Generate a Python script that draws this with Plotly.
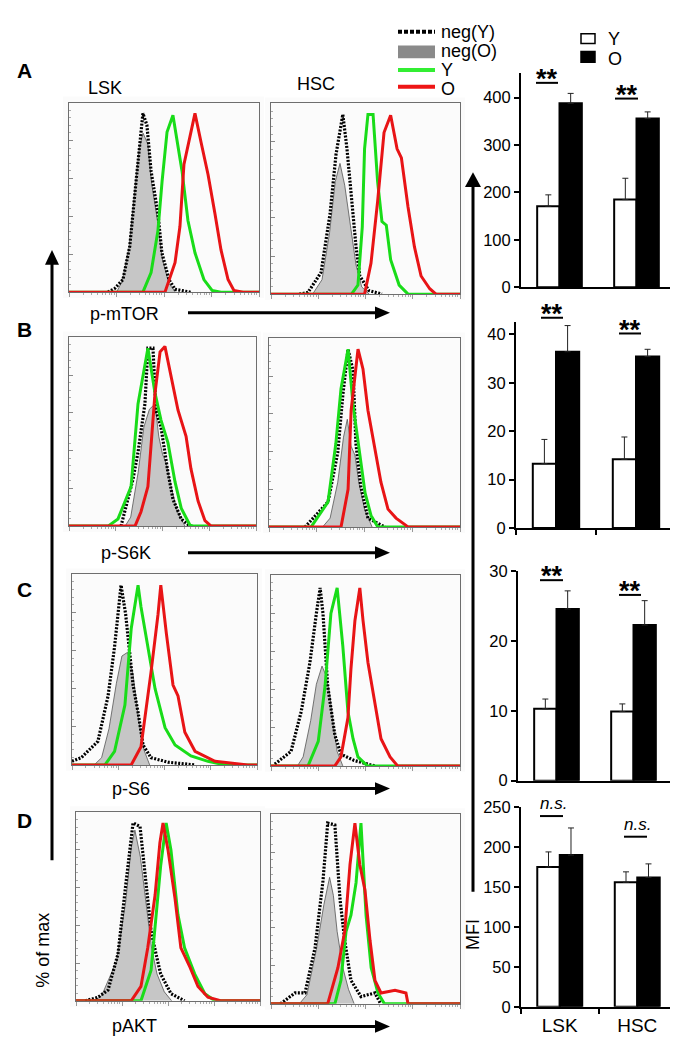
import math
import plotly.graph_objects as go

W, H = 678, 1050
FONT = "Liberation Sans, Arial, sans-serif"

# ---------------- histogram data: (channel %, % of max) ----------------
mtor_lsk_negY = [(20.5, 0), (24, 2), (28.4, 7), (32, 25.6), (35.3, 61.5), (37.9, 88.7), (38.9, 99), (41, 92.5), (43.2, 67), (46.8, 43.5), (48.9, 21.8), (52.6, 7), (55.8, 1.6), (64, 0)]
mtor_lsk_negO = [(25, 0), (28, 6), (31.5, 24), (34.5, 56), (37, 80), (39, 88), (41.5, 82), (43.5, 60), (46.5, 40), (49, 19), (52.5, 5), (56, 0)]
mtor_lsk_Y = [(0, 0), (38.9, 0), (43.2, 10.9), (46.8, 34), (49, 61.5), (51.6, 88.7), (54.7, 98), (57.4, 80), (59.5, 67), (62.6, 39.7), (66.3, 21.8), (71, 7), (75.3, 1), (80, 0), (100, 0)]
mtor_lsk_O = [(0, 0), (50.5, 0), (55.8, 16.3), (58.4, 36.5), (60.5, 70.7), (64.2, 88.7), (66.3, 99), (69.5, 83), (73.2, 65), (76.8, 43.5), (80, 23.4), (83.7, 7), (86.8, 1), (91.6, 0), (100, 0)]

mtor_hsc_negY = [(15, 0), (19.6, 1), (26.5, 12), (31.2, 44), (34.4, 77), (38, 99), (40.2, 80), (42.6, 51), (45, 26), (47, 10), (51.8, 2), (58.7, 0)]
mtor_hsc_negO = [(22, 0), (27, 8), (31, 34), (34, 62), (36.5, 72), (39, 60), (42, 38), (45, 16), (48, 4), (52, 0)]
mtor_hsc_Y = [(0, 0), (42.6, 0), (46, 5), (48.3, 37), (49.5, 80), (51.3, 99), (54, 99), (56.4, 62), (58.7, 40), (61, 38), (63.3, 19), (67.8, 5), (72.5, 0), (100, 0)]
mtor_hsc_O = [(0, 0), (49.5, 0), (52.9, 17), (56.4, 51), (59.8, 89), (63.3, 98.5), (66.7, 80), (69, 75), (72.5, 48), (75.9, 26), (79.4, 10), (84, 3), (87.3, 0), (100, 0)]

s6k_lsk_negY = [(27.8, 0), (34.2, 26), (36.9, 41), (40.6, 68), (42.2, 99), (44.9, 99), (46.5, 64.5), (49.2, 55), (52.9, 30), (55.6, 15), (60, 4), (64.7, 0)]
s6k_lsk_negO = [(30, 0), (33, 5), (37, 30), (40, 55), (43, 65), (46, 68), (48, 50), (50, 40), (52, 35), (55, 20), (58, 8), (62, 0)]
s6k_lsk_Y = [(0, 0), (20.9, 0), (26.2, 4), (33.2, 22), (36.9, 68), (39.6, 83), (42.2, 99), (46, 74), (49.2, 59), (52.9, 46.5), (56.7, 24.6), (60, 10), (64.7, 0.5), (67, 0), (100, 0)]
s6k_lsk_O = [(0, 0), (35.3, 0), (38.5, 8), (42.2, 22), (46, 74), (48.7, 97), (51.3, 100), (54.5, 83), (58.3, 64.5), (62.6, 50), (65.2, 32), (69, 14), (72.7, 3), (76, 0), (100, 0)]

s6k_hsc_negY = [(18.8, 0), (30.9, 14), (36, 41.5), (38.7, 74), (41.4, 99), (44, 87), (45.5, 46.5), (48, 23), (51.8, 5), (60.7, 0)]
s6k_hsc_negO = [(28, 0), (32, 5), (36, 25), (39, 50), (41, 60), (43, 45), (45, 40), (47, 25), (50, 10), (54, 0)]
s6k_hsc_Y = [(0, 0), (22, 0), (30.9, 14), (35, 46.5), (37.7, 77), (41.4, 99), (44, 68), (46.6, 46.5), (50.3, 19), (53.4, 6.5), (57, 0), (100, 0)]
s6k_hsc_O = [(0, 0), (37.7, 0), (41.4, 21), (43, 65), (46.6, 99), (49.2, 88), (51.8, 65), (55.5, 43), (58.6, 25), (62.3, 10), (66.5, 5), (71.7, 1), (72.8, 0), (100, 0)]

s6_lsk_negY = [(0, 2), (5, 4), (14, 13), (19.5, 38), (23, 65), (26.5, 99), (29, 83), (33, 44), (35.7, 29), (38.4, 11), (42.7, 4), (52, 1.5), (66.5, 0)]
s6_lsk_negO = [(12, 0), (16, 4), (20, 20), (24, 45), (27, 60), (30, 62), (33, 50), (36, 25), (39, 8), (42, 0)]
s6_lsk_Y = [(0, 0), (17.8, 0), (23, 7.5), (28.6, 33), (32, 75), (35.7, 99), (37.3, 87), (41, 65), (44.9, 42), (50.3, 20.5), (55.7, 11), (64.3, 5), (73.5, 2), (82.7, 0), (100, 0)]
s6_lsk_O = [(0, 0), (32, 0), (37.3, 10), (42.7, 51), (46.5, 83), (48, 99), (51, 72.5), (54.6, 44), (57.3, 38), (61, 18), (66.5, 7.5), (77.3, 2), (95, 0), (100, 0)]

s6_hsc_negY = [(2, 1), (10.6, 8), (16, 30), (20.6, 57), (24, 84), (26, 98), (27.5, 84), (30, 44), (33.8, 17), (37, 6.5), (44, 3), (55, 0)]
s6_hsc_negO = [(14, 0), (17, 5), (21, 25), (24, 45), (27, 55), (29, 50), (31, 40), (33, 22), (35, 8), (38, 0)]
s6_hsc_Y = [(0, 0), (19.6, 0), (25, 13.5), (28.6, 44), (31.7, 84), (35, 98), (38, 66), (40.7, 30), (43.4, 15), (46, 5), (51, 0), (100, 0)]
s6_hsc_O = [(0, 0), (33.8, 0), (37, 5), (40.7, 26.5), (42.3, 53.5), (44.4, 80), (47, 98), (48.7, 80), (51.3, 57), (55, 33.5), (58.2, 15), (63, 5), (67, 0), (100, 0)]

akt_lsk_negY = [(5, 0), (12, 2), (17.4, 6), (22.8, 26), (27.2, 66), (31, 99), (34.8, 97), (37.5, 70), (40.8, 39), (43.5, 26), (46, 15), (51.6, 4), (59, 0)]
akt_lsk_negO = [(10, 0), (14, 3), (22, 22), (27, 55), (30, 85), (32, 95), (35, 80), (38, 55), (41, 30), (44, 15), (48, 5), (52, 0)]
akt_lsk_Y = [(0, 0), (35.3, 0), (40.8, 17), (43.5, 48), (46, 75), (49, 99), (51.6, 84), (55.4, 48), (59, 29.5), (64.5, 15), (70, 4), (75.5, 0), (100, 0)]
akt_lsk_O = [(0, 0), (30, 0), (35.3, 8), (39, 29.5), (43, 59), (45.6, 88), (47.3, 99), (50, 84), (53.8, 57), (57, 29.5), (62, 18.6), (66.3, 8), (71.7, 2), (79, 0), (100, 0)]

akt_hsc_negY = [(5, 0), (12.7, 6), (18, 6), (23.3, 31), (27.5, 68), (30, 100), (33.8, 99), (36.5, 58), (39, 35), (42.3, 13), (47.6, 4), (55, 6), (58, 0)]
akt_hsc_negO = [(15, 0), (19, 5), (24, 30), (28, 55), (31, 70), (33, 60), (35, 40), (38, 20), (41, 8), (44, 0)]
akt_hsc_Y = [(0, 0), (33.8, 0), (37, 13), (39.7, 40), (42.3, 49), (45, 67), (47.6, 100), (50.3, 49), (53, 20), (56.6, 6), (60, 0), (100, 0)]
akt_hsc_O = [(0, 0), (30, 0), (35.4, 20), (39, 40), (41.8, 77), (44.4, 100), (47, 77), (49.7, 63), (52.4, 35), (55, 13), (58.2, 6), (65.6, 7.5), (71.4, 6), (72.5, 0), (100, 0)]

# ---------------- MFI bar data ----------------
mfi_categories = ["LSK", "HSC"]
mtor_Y = [171, 185]; mtor_Y_sem = [24, 45]
mtor_O = [388, 356]; mtor_O_sem = [21, 14]
s6k_Y = [13.3, 14.2]; s6k_Y_sem = [5.0, 4.6]
s6k_O = [36.4, 35.4]; s6k_O_sem = [5.4, 1.5]
s6_Y = [10.3, 9.9]; s6_Y_sem = [1.4, 1.1]
s6_O = [24.6, 22.3]; s6_O_sem = [2.6, 3.5]
akt_Y = [175, 156]; akt_Y_sem = [19, 13]
akt_O = [190, 162]; akt_O_sem = [34, 17]
significance = [("**", "**"), ("**", "**"), ("**", "**"), ("n.s.", "n.s.")]
marker_labels = ["p-mTOR", "p-S6K", "p-S6", "pAKT"]
panel_letters = ["A", "B", "C", "D"]

# ---------------- layout geometry (pixels) ----------------
def X(p): return p / W
def Y(p): return 1 - p / H

hist_boxes = [
    [(61, 251, 87, 280), (263, 452, 88, 282)],
    [(61, 248, 326, 518), (261, 452, 327, 519)],
    [(64, 249, 567, 761), (263, 452, 568, 762)],
    [(68, 252, 809, 1001), (263, 452, 811, 1004)],
]
bar_boxes = [(513, 667, 57, 275), (508, 668, 310, 520), (510, 664, 564, 777), (513, 668, 804, 1007)]
bar_ranges = [452, 42.6, 30, 250]
bar_dticks = [100, 10, 10, 50]
sig_lines = [
    [(528, 550, 67), (607, 630, 83)],
    [(533, 555, 306), (611, 633, 322)],
    [(532, 555, 573), (611, 633, 588)],
    [(532, 555, 813), (616, 639, 834)],
]
label_rows_y = [302, 545, 785, 1027]
label_x = [116, 118, 123, 126]
letter_y = [54, 318, 582, 818]

curves = [
    [(mtor_lsk_negY, mtor_lsk_negO, mtor_lsk_Y, mtor_lsk_O), (mtor_hsc_negY, mtor_hsc_negO, mtor_hsc_Y, mtor_hsc_O)],
    [(s6k_lsk_negY, s6k_lsk_negO, s6k_lsk_Y, s6k_lsk_O), (s6k_hsc_negY, s6k_hsc_negO, s6k_hsc_Y, s6k_hsc_O)],
    [(s6_lsk_negY, s6_lsk_negO, s6_lsk_Y, s6_lsk_O), (s6_hsc_negY, s6_hsc_negO, s6_hsc_Y, s6_hsc_O)],
    [(akt_lsk_negY, akt_lsk_negO, akt_lsk_Y, akt_lsk_O), (akt_hsc_negY, akt_hsc_negO, akt_hsc_Y, akt_hsc_O)],
]
bars = [
    (mtor_Y, mtor_Y_sem, mtor_O, mtor_O_sem),
    (s6k_Y, s6k_Y_sem, s6k_O, s6k_O_sem),
    (s6_Y, s6_Y_sem, s6_O, s6_O_sem),
    (akt_Y, akt_Y_sem, akt_O, akt_O_sem),
]

GREEN = "#19dc19"
RED = "#e81416"
TXT = 18
fig = go.Figure()
layout = dict(
    width=W, height=H, margin=dict(l=0, r=0, t=0, b=0),
    paper_bgcolor="white", plot_bgcolor="rgba(0,0,0,0)",
    showlegend=False, barmode="group", bargap=0.42, bargroupgap=0,
    font=dict(family=FONT, color="black"),
)
shapes = []
annotations = []

log_ticks = [d * 25 + 25 * math.log10(k) for d in range(4) for k in range(2, 10)]
major_ticks = [0, 25, 50, 75, 100]

ax = 0
for r in range(4):
    for c in range(2):
        ax += 1
        x0, x1, y0, y1 = hist_boxes[r][c]
        xa, ya = ("xaxis%d" % ax if ax > 1 else "xaxis"), ("yaxis%d" % ax if ax > 1 else "yaxis")
        xr, yr = ("x%d" % ax if ax > 1 else "x"), ("y%d" % ax if ax > 1 else "y")
        layout[xa] = dict(domain=[X(x0), X(x1)], range=[0, 100], anchor=yr, showgrid=False, zeroline=False,
                          showline=True, mirror=True, linecolor="#6e6e6e", linewidth=1,
                          ticks="outside", ticklen=4, tickcolor="#999", tickvals=major_ticks, showticklabels=False,
                          minor=dict(tickvals=log_ticks, ticks="outside", ticklen=2, tickcolor="#aaa"))
        layout[ya] = dict(domain=[Y(y1), Y(y0)], range=[0, 105], anchor=xr, showgrid=False, zeroline=False,
                          showline=True, mirror=True, linecolor="#6e6e6e", linewidth=1,
                          ticks="inside", ticklen=4, tickcolor="#888", tickvals=[0, 21, 42, 63, 84, 105],
                          showticklabels=False,
                          minor=dict(tickvals=[i * 4.2 for i in range(26)], ticks="inside", ticklen=2, tickcolor="#aaa"))
        shapes.append(dict(type="rect", xref=xr + " domain", yref=yr + " domain", x0=0, x1=1, y0=0, y1=1,
                           fillcolor="#f4f4f4", line=dict(width=0), layer="below"))
        shapes.append(dict(type="rect", xref="paper", yref="paper", x0=X(x0 - 6), x1=X(x1 + 5), y0=Y(y1 + 6), y1=Y(y0 - 6),
                           fillcolor="#fbfbfb", line=dict(width=0), layer="below"))
        negY, negO, cY, cO = curves[r][c]
        fig.add_trace(go.Scatter(x=[p[0] for p in negO], y=[p[1] for p in negO], xaxis=xr, yaxis=yr, mode="lines",
                                 fill="tozeroy", fillcolor="#c6c6c6", line=dict(color="#555", width=0.8)))
        fig.add_trace(go.Scatter(x=[p[0] for p in negY], y=[p[1] for p in negY], xaxis=xr, yaxis=yr, mode="lines",
                                 line=dict(color="black", width=3.2, dash="2px,1.5px")))
        fig.add_trace(go.Scatter(x=[p[0] for p in cY], y=[p[1] for p in cY], xaxis=xr, yaxis=yr, mode="lines",
                                 line=dict(color=GREEN, width=3)))
        fig.add_trace(go.Scatter(x=[p[0] for p in cO], y=[p[1] for p in cO], xaxis=xr, yaxis=yr, mode="lines",
                                 line=dict(color=RED, width=3)))

for r in range(4):
    ax += 1
    x0, x1, y0, y1 = bar_boxes[r]
    xa, ya = "xaxis%d" % ax, "yaxis%d" % ax
    xr, yr = "x%d" % ax, "y%d" % ax
    last = r == 3
    layout[xa] = dict(domain=[X(x0), X(x1)], range=[-0.5, 1.5], anchor=yr, type="category",
                      showgrid=False, zeroline=False, showline=True, linecolor="black", linewidth=2,
                      ticks="outside" if r in (1, 3) else "", tickson="boundaries", ticklen=5, tickwidth=2,
                      tickcolor="black", showticklabels=last, tickfont=dict(size=19, family=FONT))
    layout[ya] = dict(domain=[Y(y1), Y(y0)], range=[0, bar_ranges[r]], anchor=xr, showgrid=False, zeroline=False,
                      showline=True, linecolor="black", linewidth=2, ticks="outside", ticklen=5, tickwidth=2,
                      tickcolor="black", dtick=bar_dticks[r], tick0=0, tickfont=dict(size=16.5, family=FONT))
    vY, eY, vO, eO = bars[r]
    fig.add_trace(go.Bar(x=mfi_categories, y=vY, xaxis=xr, yaxis=yr, offsetgroup="Y",
                         marker=dict(color="white", line=dict(color="black", width=2)),
                         error_y=dict(type="data", symmetric=False, array=eY, arrayminus=[0] * len(eY),
                                      color="#222", thickness=1, width=3)))
    fig.add_trace(go.Bar(x=mfi_categories, y=vO, xaxis=xr, yaxis=yr, offsetgroup="O",
                         marker=dict(color="black", line=dict(color="black", width=2)),
                         error_y=dict(type="data", symmetric=False, array=eO, arrayminus=[0] * len(eO),
                                      color="#222", thickness=1, width=3)))
    for (sx0, sx1, sy), txt in zip(sig_lines[r], significance[r]):
        shapes.append(dict(type="line", xref="paper", yref="paper", x0=X(sx0), x1=X(sx1), y0=Y(sy), y1=Y(sy),
                           line=dict(color="black", width=2)))
        if txt == "**":
            annotations.append(dict(text="<b>**</b>", x=X((sx0 + sx1) / 2), y=Y(sy - 4), xref="paper", yref="paper",
                                    showarrow=False, xanchor="center", yanchor="middle",
                                    font=dict(size=27, family=FONT)))
        else:
            annotations.append(dict(text="<i>n.s.</i>", x=X((sx0 + sx1) / 2 + 2), y=Y(sy - 1), xref="paper", yref="paper",
                                    showarrow=False, xanchor="center", yanchor="bottom",
                                    font=dict(size=17, family=FONT)))

# row labels, arrows, letters
def harrow(xs, xe, y, hl=15, hw=6.5, lw=3):
    shapes.append(dict(type="line", xref="paper", yref="paper", x0=X(xs), x1=X(xe - hl + 1), y0=Y(y), y1=Y(y),
                       line=dict(color="black", width=lw)))
    shapes.append(dict(type="path", xref="paper", yref="paper",
                       path="M %f %f L %f %f L %f %f Z" % (X(xe), Y(y), X(xe - hl), Y(y - hw), X(xe - hl), Y(y + hw)),
                       fillcolor="black", line=dict(width=0)))

def varrow(x, ys, ye, hl=15, hw=7, lw=3):
    shapes.append(dict(type="line", xref="paper", yref="paper", x0=X(x), x1=X(x), y0=Y(ys), y1=Y(ye + hl - 1),
                       line=dict(color="black", width=lw)))
    shapes.append(dict(type="path", xref="paper", yref="paper",
                       path="M %f %f L %f %f L %f %f Z" % (X(x), Y(ye), X(x - hw), Y(ye + hl), X(x + hw), Y(ye + hl)),
                       fillcolor="black", line=dict(width=0)))

for r in range(4):
    annotations.append(dict(text=marker_labels[r], x=X(label_x[r]), y=Y(label_rows_y[r]), xref="paper", yref="paper",
                            showarrow=False, xanchor="center", yanchor="middle", font=dict(size=TXT, family=FONT)))
    harrow(180, 382, label_rows_y[r] - (1 if r == 0 else 0))
    annotations.append(dict(text="<b>%s</b>" % panel_letters[r], x=X(16), y=Y(letter_y[r]), xref="paper", yref="paper",
                            showarrow=False, xanchor="center", yanchor="middle", font=dict(size=21, family=FONT)))

varrow(44, 858, 237)
varrow(465, 890, 158, hl=15, hw=8)

annotations.append(dict(text="% of max", x=X(35), y=Y(950), xref="paper", yref="paper", textangle=-90,
                        showarrow=False, xanchor="center", yanchor="middle", font=dict(size=TXT, family=FONT)))
annotations.append(dict(text="MFI", x=X(465), y=Y(933), xref="paper", yref="paper", textangle=-90,
                        showarrow=False, xanchor="center", yanchor="middle", font=dict(size=TXT, family=FONT)))
annotations.append(dict(text="LSK", x=X(97), y=Y(72), xref="paper", yref="paper",
                        showarrow=False, xanchor="center", yanchor="middle", font=dict(size=TXT, family=FONT)))
annotations.append(dict(text="HSC", x=X(308), y=Y(68), xref="paper", yref="paper",
                        showarrow=False, xanchor="center", yanchor="middle", font=dict(size=TXT, family=FONT)))

# histogram legend
shapes.append(dict(type="line", xref="paper", yref="paper", x0=X(390), x1=X(427), y0=Y(15), y1=Y(15),
                   line=dict(color="black", width=4, dash="4px,2px")))
shapes.append(dict(type="rect", xref="paper", yref="paper", x0=X(390), x1=X(427), y0=Y(42), y1=Y(29),
                   fillcolor="#8a8a8a", line=dict(width=0)))
shapes.append(dict(type="line", xref="paper", yref="paper", x0=X(390), x1=X(427), y0=Y(54), y1=Y(54),
                   line=dict(color="#33ee33", width=4)))
shapes.append(dict(type="line", xref="paper", yref="paper", x0=X(390), x1=X(427), y0=Y(71), y1=Y(71),
                   line=dict(color="#ee1515", width=4)))
for txt, yy in [("neg(Y)", 15), ("neg(O)", 35), ("Y", 54), ("O", 73)]:
    annotations.append(dict(text=txt, x=X(431), y=Y(yy), xref="paper", yref="paper", showarrow=False,
                            xanchor="left", yanchor="middle", font=dict(size=TXT, family=FONT)))
# bar legend
shapes.append(dict(type="rect", xref="paper", yref="paper", x0=X(573), x1=X(587), y0=Y(27), y1=Y(17),
                   fillcolor="white", line=dict(color="black", width=1.5)))
shapes.append(dict(type="rect", xref="paper", yref="paper", x0=X(573), x1=X(587), y0=Y(46), y1=Y(35),
                   fillcolor="black", line=dict(color="black", width=1.5)))
for txt, yy in [("Y", 22), ("O", 43)]:
    annotations.append(dict(text=txt, x=X(598), y=Y(yy), xref="paper", yref="paper", showarrow=False,
                            xanchor="left", yanchor="middle", font=dict(size=TXT, family=FONT)))

layout["shapes"] = shapes
layout["annotations"] = annotations
fig.update_layout(**layout)
fig.write_html("out.html")
